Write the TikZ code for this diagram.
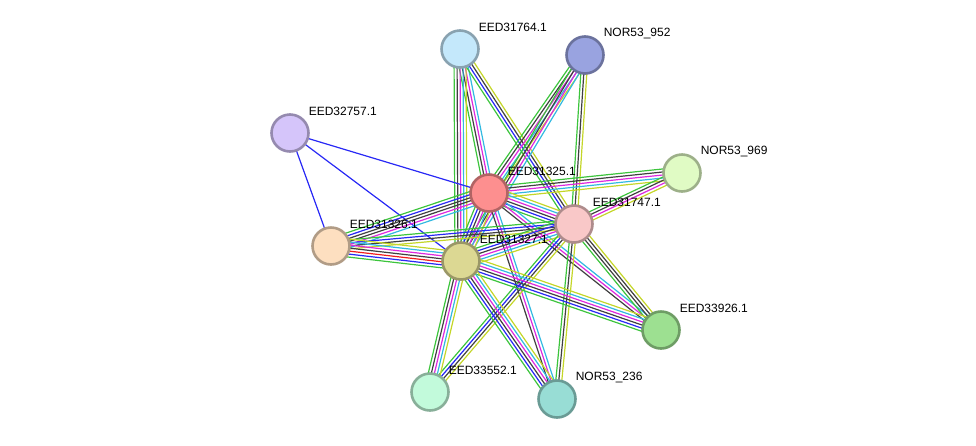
\documentclass[tikz,border=0pt]{standalone}
\usepackage{fontspec}
\setmainfont{Liberation Sans}
\usetikzlibrary{calc}
\pgfdeclarelayer{edges}
\pgfsetlayers{edges,main}
\definecolor{sgreen}{RGB}{60,196,60}
\definecolor{sblue}{RGB}{40,40,245}
\definecolor{sblack}{RGB}{64,64,64}
\definecolor{smagenta}{RGB}{222,40,222}
\definecolor{scyan}{RGB}{50,185,225}
\definecolor{syellow}{RGB}{196,214,40}
\definecolor{sred}{RGB}{240,30,30}
\tikzset{
  prot/.style={circle,minimum size=37,inner sep=0,line width=2.6,draw=#1!70!black,fill=#1},
  lbl/.style={anchor=west,inner sep=0,xshift=4.6,yshift=7.6,font=\fontsize{12}{14}\selectfont},
  edgeline/.style={line width=1.2}
}
\newcommand{\linkcount}{0}
% one line per evidence colour, side by side
\newcommand\netedge[3]{%
  \foreach \ecol [count=\k] in {#3}{\xdef\linkcount{\k}}%
  \foreach \ecol [count=\k] in {#3}{%
    \pgfmathsetmacro\off{(\k-(\linkcount+1)/2)*3}%
    \draw[edgeline,draw=\ecol] ($(#1)!\off pt!90:(#2)$) -- ($(#2)!\off pt!-90:(#1)$);
  }}
\definecolor{cA}{RGB}{196,232,251}
\definecolor{cB}{RGB}{153,163,224}
\definecolor{cC}{RGB}{213,197,250}
\definecolor{cD}{RGB}{224,251,196}
\definecolor{cE}{RGB}{253,143,143}
\definecolor{cF}{RGB}{249,200,200}
\definecolor{cG}{RGB}{253,223,192}
\definecolor{cH}{RGB}{220,216,147}
\definecolor{cI}{RGB}{157,224,145}
\definecolor{cJ}{RGB}{194,250,219}
\definecolor{cK}{RGB}{152,221,213}

\begin{document}
\begin{tikzpicture}[x=1pt,y=-1pt]
\useasboundingbox (0,0) rectangle (976,445);

% proteins
\node[prot=cA,label={[lbl]45:EED31764.1}] (eed31764) at (460,49) {};
\node[prot=cB,label={[lbl]45:NOR53\_952}] (nor952) at (585,55) {};
\node[prot=cC,label={[lbl]45:EED32757.1}] (eed32757) at (290,133) {};
\node[prot=cD,label={[lbl]45:NOR53\_969}] (nor969) at (682,173) {};
\node[prot=cE,label={[lbl]45:EED31325.1}] (eed31325) at (489,193) {};
\node[prot=cF,label={[lbl]45:EED31747.1}] (eed31747) at (574,224) {};
\node[prot=cG,label={[lbl]45:EED31326.1}] (eed31326) at (331,246) {};
\node[prot=cH,label={[lbl]45:EED31327.1}] (eed31327) at (461,261) {};
\node[prot=cI,label={[lbl]45:EED33926.1}] (eed33926) at (661,330) {};
\node[prot=cJ,label={[lbl]45:EED33552.1}] (eed33552) at (430,392) {};
\node[prot=cK,label={[lbl]45:NOR53\_236}] (nor236) at (557,399) {};

% interactions
\begin{pgfonlayer}{edges}
\netedge{eed31764}{eed31325}{sgreen,sblack,smagenta,scyan}
\netedge{eed31764}{eed31327}{sgreen,sblack,smagenta,scyan,syellow}
\netedge{eed31764}{eed31747}{sgreen,sblue,sblack,syellow}
\netedge{nor952}{eed31325}{sgreen,sblack,smagenta,scyan,syellow}
\netedge{nor952}{eed31327}{sgreen,sblack,smagenta,scyan}
\netedge{nor952}{eed31747}{sgreen,sblack,syellow}
\netedge{eed32757}{eed31325}{sblue}
\netedge{eed32757}{eed31326}{sblue}
\netedge{eed32757}{eed31327}{sblue}
\netedge{nor969}{eed31325}{sgreen,sblack,smagenta,scyan,syellow}
\netedge{nor969}{eed31747}{sgreen,sblack,smagenta,syellow}
\netedge{eed31325}{eed31747}{sgreen,sblue,sblack,smagenta,scyan,syellow}
\netedge{eed31325}{eed31326}{sgreen,sblue,sblack,sblack,smagenta,scyan}
\netedge{eed31325}{eed31327}{sgreen,sblue,sblack,smagenta,scyan,syellow}
\netedge{eed31325}{eed33926}{sblack,smagenta,scyan}
\netedge{eed31325}{nor236}{sblack,smagenta,scyan}
\netedge{eed31747}{eed31326}{sgreen,sblue,sblack,syellow}
\netedge{eed31747}{eed31327}{sgreen,sblue,sblack,smagenta,scyan,syellow}
\netedge{eed31747}{eed33926}{sgreen,sblack,sblack,syellow}
\netedge{eed31747}{eed33552}{sgreen,sblue,sblack,syellow}
\netedge{eed31747}{nor236}{sgreen,sblack,syellow}
\netedge{eed31326}{eed31327}{sgreen,sblue,sred,sblack,smagenta,scyan,syellow}
\netedge{eed31327}{eed33926}{sgreen,sblue,sblack,smagenta,scyan,syellow}
\netedge{eed31327}{eed33552}{sgreen,sblack,smagenta,scyan,syellow}
\netedge{eed31327}{nor236}{sgreen,sblue,sblack,smagenta,scyan,syellow}
\end{pgfonlayer}

\end{tikzpicture}
\end{document}
